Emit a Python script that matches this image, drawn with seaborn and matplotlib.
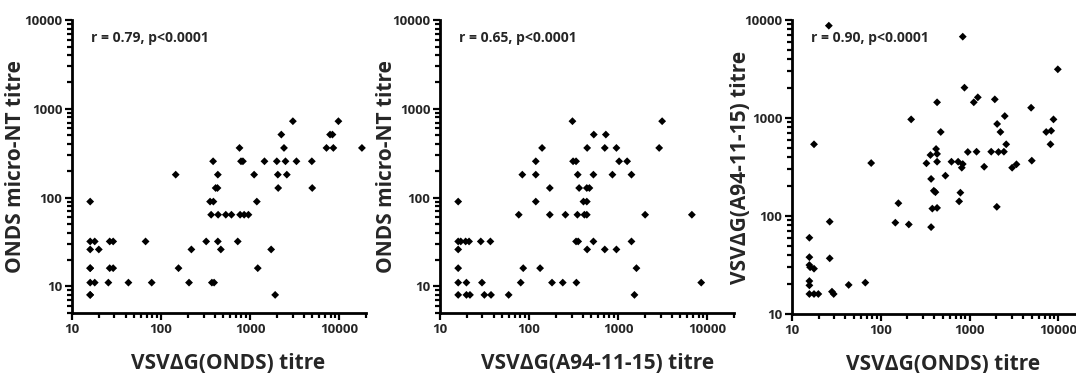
import matplotlib
matplotlib.use("Agg")
import matplotlib.pyplot as plt
import seaborn as sns
import pandas as pd
from matplotlib.ticker import LogLocator, NullFormatter, FixedLocator, FixedFormatter

sns.set_style("ticks")
plt.rcParams['font.family'] = ['Open Sans', 'DejaVu Sans']
plt.rcParams['font.weight'] = 'bold'

# Panel 1: VSVdG(ONDS) titre vs ONDS micro-NT titre
p1_x = [3020, 9800, 2240, 7900, 8400, 760, 2400, 7200, 8600, 18000,
        384, 790, 830, 1449, 1993, 2494, 3313, 4930,
        146, 434, 1109, 2046, 2582, 410, 430, 2066, 4980,
        16, 355, 387, 1189, 365, 437, 533, 617, 772, 857, 957,
        16, 18, 26.5, 29, 67, 321, 434, 726, 16, 20, 219, 469, 1722,
        16, 16, 26.5, 29, 157, 1218, 16, 18, 25.6, 43, 78.5, 206, 372, 394,
        16, 16, 1910]
p1_y = [724, 724, 512, 512, 512, 362, 362, 362, 362, 362,
        256, 256, 256, 256, 256, 256, 256, 256,
        181, 181, 181, 181, 181, 128, 128, 128, 128,
        90, 90, 90, 90, 64, 64, 64, 64, 64, 64, 64,
        32, 32, 32, 32, 32, 32, 32, 32, 26, 26, 26, 26, 26,
        16, 16, 16, 16, 16, 16, 11, 11, 11, 11, 11, 11, 11, 11,
        8, 8, 8]

# Panel 2: VSVdG(A94-11-15) titre vs ONDS micro-NT titre
p2_x = [307, 3120, 533, 728, 140, 449, 708, 957, 2890,
        119, 312, 337, 1026, 1262, 84, 119, 352, 528, 863, 1412,
        171, 365, 445, 476, 16, 119, 408, 445,
        76.6, 171, 256, 349, 418, 445, 2010, 6730,
        16, 17.1, 19.4, 21.2, 28.7, 36.8, 337, 356, 528, 1412,
        16, 449, 708, 957, 16, 86, 133, 1606,
        16, 19.8, 29.6, 80.6, 181, 239, 340, 8570,
        16, 19.8, 21.7, 31.5, 37.4, 59, 1525]
p2_y = [724, 724, 512, 512, 362, 362, 362, 362, 362,
        256, 256, 256, 256, 256, 181, 181, 181, 181, 181, 181,
        128, 128, 128, 128, 90, 90, 90, 90,
        64, 64, 64, 64, 64, 64, 64, 64,
        32, 32, 32, 32, 32, 32, 32, 32, 32, 32,
        26, 26, 26, 26, 16, 16, 16, 16,
        11, 11, 11, 11, 11, 11, 11, 11,
        8, 8, 8, 8, 8, 8, 8]

# Panel 3: VSVdG(ONDS) titre vs VSVdG(A94-11-15) titre
p3_x = [26, 839, 9880, 877, 1117, 1240, 431, 1927, 4940, 2495, 220, 8830,
        2047, 474, 2230, 7310, 8320, 17.7, 8170, 2590, 420, 431, 363,
        78, 327, 431, 626, 744, 839, 818, 956, 1200, 1755, 2120, 2440,
        1463, 3020, 3380, 5030, 535, 369, 396, 413, 789, 158, 764,
        381, 431, 2030, 146, 207, 369, 26.6, 15.7, 15.7, 26.6, 15.7, 16,
        17.7, 15.7, 15.7, 15.7, 17.7, 19.8, 28.2, 29.5, 43.5, 67]
p3_y = [8750, 6760, 3140, 2040, 1446, 1625, 1446, 1550, 1273, 1047, 968, 968,
        869, 720, 720, 720, 741, 539, 539, 539, 483, 430, 419,
        347, 345, 358, 358, 358, 339, 311, 450, 453, 453, 450, 453,
        318, 311, 337, 367, 258, 239, 181, 175, 173, 135, 141,
        119, 121, 124, 85.5, 82, 77, 87.5, 60, 38, 37, 31.6, 30,
        29, 21.7, 19.6, 16, 16, 16, 16.9, 16, 19.8, 20.9]

panels = [
    (p1_x, p1_y, "VSV\u0394G(ONDS) titre", "ONDS micro-NT titre", "r = 0.79, p<0.0001", (5, 10000)),
    (p2_x, p2_y, "VSV\u0394G(A94-11-15) titre", "ONDS micro-NT titre", "r = 0.65, p<0.0001", (5, 10000)),
    (p3_x, p3_y, "VSV\u0394G(ONDS) titre", "VSV\u0394G(A94-11-15) titre", "r = 0.90, p<0.0001", (10, 10000)),
]

W, H = 1076, 373
fig = plt.figure(figsize=(W / 100, H / 100), dpi=100)
boxes = [
    (72, 20, 294, 293),
    (440, 20, 294, 293),
    (792, 20, 293, 294),
]
xlab_x = [0.53, 0.537, 0.515]
ylab_x = [-0.155, -0.145, -0.14]

for i, ((xs, ys, xl, yl, ann, ylim), (l, t, w, h)) in enumerate(zip(panels, boxes)):
    ax = fig.add_axes([l / W, (H - t - h) / H, w / W, h / H])
    df = pd.DataFrame({"x": xs, "y": ys})
    sns.scatterplot(data=df, x="x", y="y", ax=ax, marker="D", s=16,
                    color="black", edgecolor="none", linewidth=0, clip_on=False)
    ax.set_xscale("log")
    ax.set_yscale("log")
    ax.set_xlim(10, 20000)
    ax.set_ylim(*ylim)
    for a in (ax.xaxis, ax.yaxis):
        a.set_major_locator(FixedLocator([10, 100, 1000, 10000]))
        a.set_major_formatter(FixedFormatter(["10", "100", "1000", "10000"]))
        a.set_minor_locator(LogLocator(base=10, subs=range(2, 10), numticks=20))
        a.set_minor_formatter(NullFormatter())
    for side in ("top", "right"):
        ax.spines[side].set_visible(False)
    for side in ("left", "bottom"):
        ax.spines[side].set_linewidth(2.0)
        ax.spines[side].set_color("black")
    ax.tick_params(which="major", direction="out", length=5, width=1.6,
                   labelsize=9.5, pad=2, color="black")
    ax.tick_params(which="minor", direction="out", length=3.5, width=1.6, color="black")
    for lab in ax.get_xticklabels() + ax.get_yticklabels():
        lab.set_fontweight("bold")
    ax.set_xlabel(xl, fontsize=15, fontweight="bold")
    ax.set_ylabel(yl, fontsize=15, fontweight="bold")
    ax.xaxis.set_label_coords(xlab_x[i], -0.135)
    ax.yaxis.set_label_coords(ylab_x[i], 0.5)
    ax.text(0.065, 0.938, ann, transform=ax.transAxes, fontsize=10,
            fontweight="bold", ha="left", va="center")

fig.savefig("out.png", dpi=100)
